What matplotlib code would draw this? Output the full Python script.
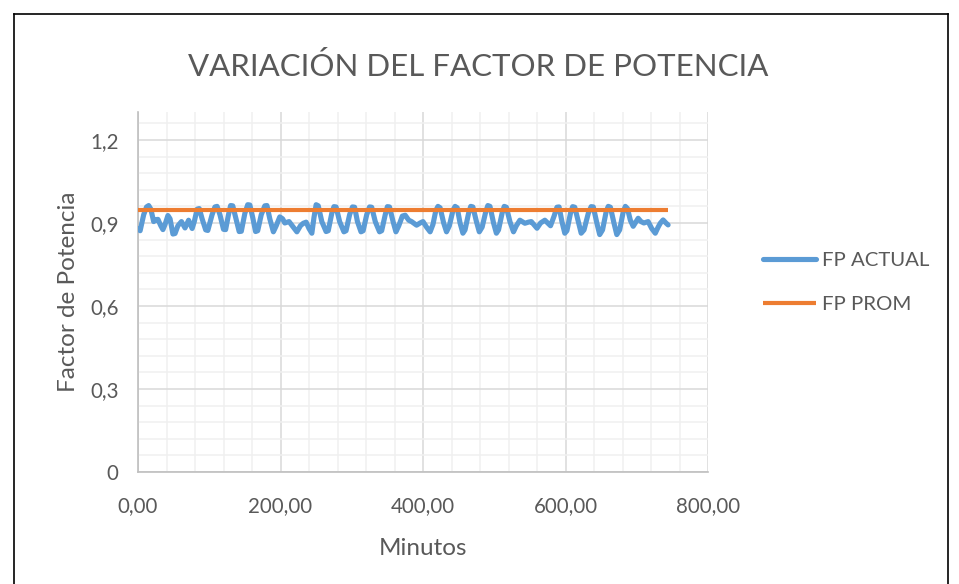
import matplotlib
matplotlib.use("Agg")
import matplotlib.pyplot as plt
from matplotlib.ticker import MultipleLocator, FuncFormatter
from matplotlib.lines import Line2D

plt.rcParams['font.family'] = ['Lato', 'DejaVu Sans']

# Power-factor readings over time (minutes)
minutos = [0, 3, 8, 12, 15, 18, 22, 25, 28, 32, 35, 38, 42, 45, 49, 52, 56, 61,
           66, 71, 76, 79, 83, 86, 90, 95, 98, 104, 108, 111, 115, 120, 123, 127,
           130, 133, 137, 142, 145, 150, 154, 157, 161, 165, 168, 173, 178, 181,
           185, 190, 194, 199, 203, 206, 212, 218, 223, 228, 232, 236, 240, 244,
           247, 250, 253, 258, 264, 267, 272, 275, 278, 283, 289, 292, 297, 301,
           304, 308, 313, 316, 321, 325, 328, 333, 339, 342, 347, 350, 353, 358,
           362, 366, 371, 375, 380, 384, 391, 396, 400, 405, 410, 414, 418, 421,
           424, 429, 433, 437, 442, 445, 448, 452, 456, 459, 464, 467, 470, 475,
           479, 483, 488, 491, 494, 499, 503, 506, 511, 514, 517, 522, 527, 531,
           536, 543, 548, 552, 556, 560, 565, 571, 575, 579, 584, 588, 591, 595,
           599, 602, 607, 610, 613, 618, 622, 626, 632, 636, 639, 644, 648, 652,
           657, 660, 663, 668, 672, 676, 681, 684, 687, 691, 695, 699, 702, 706,
           710, 716, 721, 726, 730, 733, 737, 741, 744]
fp_actual = [0.880, 0.872, 0.930, 0.958, 0.963, 0.950, 0.905, 0.912, 0.913, 0.890,
             0.876, 0.895, 0.927, 0.915, 0.860, 0.862, 0.890, 0.905, 0.882, 0.910,
             0.880, 0.905, 0.950, 0.952, 0.915, 0.875, 0.873, 0.930, 0.958, 0.960,
             0.930, 0.877, 0.876, 0.930, 0.963, 0.962, 0.920, 0.869, 0.870, 0.935,
             0.966, 0.965, 0.920, 0.869, 0.872, 0.930, 0.962, 0.963, 0.915, 0.868,
             0.890, 0.922, 0.915, 0.900, 0.905, 0.885, 0.868, 0.890, 0.899, 0.903,
             0.880, 0.863, 0.920, 0.966, 0.962, 0.905, 0.869, 0.872, 0.935, 0.959,
             0.958, 0.905, 0.868, 0.872, 0.930, 0.958, 0.957, 0.905, 0.868, 0.872,
             0.930, 0.958, 0.957, 0.905, 0.868, 0.872, 0.930, 0.959, 0.958, 0.905,
             0.868, 0.890, 0.925, 0.928, 0.910, 0.905, 0.892, 0.900, 0.905, 0.885,
             0.868, 0.895, 0.945, 0.960, 0.955, 0.900, 0.868, 0.890, 0.945, 0.960,
             0.955, 0.900, 0.863, 0.875, 0.935, 0.960, 0.958, 0.905, 0.868, 0.885,
             0.940, 0.963, 0.960, 0.900, 0.863, 0.875, 0.935, 0.960, 0.957, 0.905,
             0.868, 0.890, 0.910, 0.899, 0.903, 0.905, 0.893, 0.881, 0.900, 0.910,
             0.900, 0.890, 0.925, 0.957, 0.958, 0.905, 0.863, 0.872, 0.935, 0.959,
             0.957, 0.905, 0.863, 0.875, 0.935, 0.959, 0.958, 0.900, 0.858, 0.875,
             0.940, 0.960, 0.957, 0.900, 0.858, 0.875, 0.940, 0.960, 0.952, 0.910,
             0.888, 0.905, 0.917, 0.905, 0.900, 0.905, 0.880, 0.863, 0.885, 0.899,
             0.911, 0.900, 0.893]

# Average power factor over the same period
minutos_prom = [0, 744]
fp_prom = [0.947, 0.947]

y_ticks = [0, 0.3, 0.6, 0.9, 1.2]
x_ticks = [0, 200, 400, 600, 800]

BLUE = '#5b9bd5'
ORANGE = '#ed7d31'
TEXT = '#595959'

fig = plt.figure(figsize=(9.59, 5.84), dpi=100)
ax = fig.add_axes([138 / 959, 112 / 584, 570 / 959, 359.7 / 584])

ax.plot(minutos, fp_actual, color=BLUE, lw=3.7, solid_joinstyle='round',
        solid_capstyle='round', label='FP ACTUAL', zorder=3)
ax.plot(minutos_prom, fp_prom, color=ORANGE, lw=3.0, solid_capstyle='butt',
        label='FP PROM', zorder=4)

ax.set_xlim(0, 800)
ax.set_ylim(0, 1.3)
ax.set_xticks(x_ticks)
ax.set_yticks(y_ticks)
ax.xaxis.set_minor_locator(MultipleLocator(40))
ax.yaxis.set_minor_locator(MultipleLocator(0.06))
ax.xaxis.set_major_formatter(FuncFormatter(lambda v, p: f"{v:.2f}".replace('.', ',')))
ax.yaxis.set_major_formatter(FuncFormatter(
    lambda v, p: '0' if v == 0 else f"{v:.1f}".replace('.', ',')))

ax.grid(which='major', color='#d9d9d9', lw=1.1)
ax.grid(which='minor', color='#f0f0f0', lw=1.1)
ax.set_axisbelow(True)
ax.tick_params(which='both', length=0, colors=TEXT, labelsize=14.8)
ax.tick_params(axis='y', pad=14)
ax.tick_params(axis='x', pad=17)

for s in ('top', 'right'):
    ax.spines[s].set_visible(False)
for s in ('left', 'bottom'):
    ax.spines[s].set_color('#bfbfbf')
    ax.spines[s].set_linewidth(1.2)

ax.set_xlabel('Minutos', fontsize=17.5, color=TEXT, labelpad=16)
ax.set_ylabel('Factor de Potencia', fontsize=17.5, color=TEXT, labelpad=8)

fig.text(478 / 959, 1 - 67 / 584, 'VARIACIÓN DEL FACTOR DE POTENCIA',
         ha='center', va='center', fontsize=22.5, color=TEXT)

leg = fig.legend(loc='center left', bbox_to_anchor=(763 / 959, 1 - 282.5 / 584),
                 frameon=False, fontsize=14.7, handlelength=2.6, handletextpad=0.3,
                 labelspacing=1.3, borderpad=0, borderaxespad=0)
for t in leg.get_texts():
    t.set_color(TEXT)

# outer frame around the chart
fig.add_artist(Line2D([14 / 959, 14 / 959], [0, 1 - 14 / 584], transform=fig.transFigure,
                      color='black', lw=1.2))
fig.add_artist(Line2D([14 / 959, 948 / 959], [1 - 14 / 584, 1 - 14 / 584],
                      transform=fig.transFigure, color='black', lw=1.2))
fig.add_artist(Line2D([948 / 959, 948 / 959], [0, 1 - 14 / 584], transform=fig.transFigure,
                      color='black', lw=1.2))

fig.savefig('out.png', dpi=100)
